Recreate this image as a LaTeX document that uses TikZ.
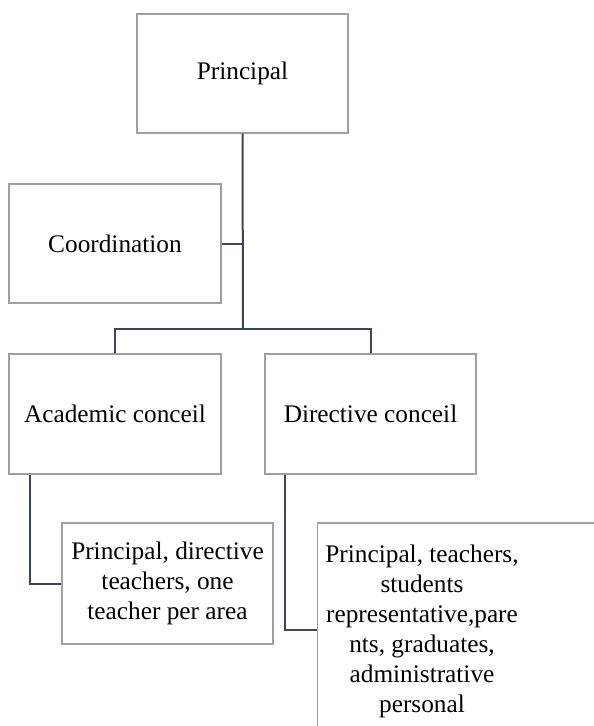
\documentclass[tikz,border=0pt]{standalone}
\usepackage{fontspec}
\setmainfont{Liberation Serif}
\definecolor{boxgray}{HTML}{A0A0A0}
\definecolor{linecol}{HTML}{3B4658}
\begin{document}
\begin{tikzpicture}[x=1pt,y=-1pt,
  box/.style={draw=boxgray, line width=1.2pt, rectangle, inner sep=0pt,
    font=\fontsize{25.3}{30}\selectfont, align=center},
  txt/.style={inner sep=0pt, font=\fontsize{25.3}{30}\selectfont, align=center},
  conn/.style={draw=linecol, line width=2pt}]
\useasboundingbox (0,0) rectangle (594,726);
\clip (0,0) rectangle (594,726);
\node[box, minimum width=211pt, minimum height=119pt] (p) at (242.5,73.5) {Principal};
\node[box, minimum width=212pt, minimum height=119pt] (co) at (115,243.5) {Coordination};
\node[box, minimum width=212pt, minimum height=120pt] (ac) at (115,414) {Academic conceil};
\node[box, minimum width=211pt, minimum height=120pt] (dc) at (370.5,414) {Directive conceil};
\node[box, minimum width=211pt, minimum height=121pt] (ll) at (167.5,583.5) {Principal, directive\\teachers, one\\teacher per area};
\node[box, minimum width=300pt, minimum height=214pt, anchor=west] (dm) at (317,630) {};
\node[txt] (dmt) at (422,631) {Principal, teachers,\\students\\representative,pare\\nts, graduates,\\administrative\\personal};
\coordinate (j) at (243,329);
\draw[conn] (p.south) -- (j);
\draw[conn] (co.east) -- (co.east -| j);
\draw[conn] (ac.north) |- (j) -| (dc.north);
\draw[conn] ([xshift=22pt]ac.south west) |- (ll.west);
\draw[conn] ([xshift=21pt]dc.south west) |- (dm.west);
\end{tikzpicture}
\end{document}
